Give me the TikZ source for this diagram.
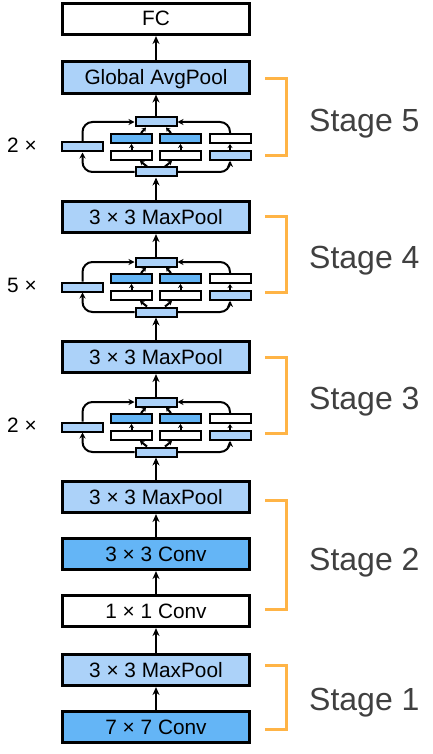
\documentclass[tikz,border=0pt]{standalone}
\usepackage{fontspec}
\setmainfont{Liberation Sans}
\usetikzlibrary{arrows.meta, positioning}
\definecolor{poolblue}{RGB}{172,210,249}
\definecolor{convblue}{RGB}{100,181,246}
\definecolor{stageorange}{RGB}{255,180,70}
\definecolor{stagegray}{RGB}{64,64,64}

\begin{document}
\begin{tikzpicture}[x=1pt, y=-1pt,
    layer/.style={rectangle, draw, line width=2.6pt, minimum width=187pt, minimum height=31.5pt, inner sep=0pt,
      text height=15pt, text depth=1pt, font=\fontsize{20.8}{24}\selectfont},
    unit/.style={rectangle, draw, line width=2pt, minimum width=41pt, minimum height=9pt, inner sep=0pt},
    flow/.style={-{Stealth[length=8pt, width=7pt]}, line width=2.3pt},
    link/.style={-{Stealth[length=6pt, width=6pt]}, line width=2pt, rounded corners=10pt},
    tiny/.style={-{Stealth[length=4pt, width=5pt]}, line width=2pt},
    bracket/.style={draw=stageorange, line width=3pt},
    stage/.style={anchor=base west, inner sep=0pt, text=stagegray, font=\fontsize{32}{36}\selectfont},
    times/.style={anchor=base west, inner sep=0pt, font=\fontsize{20.8}{24}\selectfont}
]
\useasboundingbox (0,0) rectangle (433,754);

% main column
\node[layer, fill=white] (fc) at (156,19) {FC};
\node[layer, fill=poolblue] (gap) at (156,77.5) {Global AvgPool};
\node[layer, fill=poolblue] (pool4) at (156,217) {3 × 3 MaxPool};
\node[layer, fill=poolblue] (pool3) at (156,357) {3 × 3 MaxPool};
\node[layer, fill=poolblue] (pool2) at (156,497) {3 × 3 MaxPool};
\node[layer, fill=convblue] (conv3) at (156,554) {3 × 3 Conv};
\node[layer, fill=white] (conv1) at (156,611) {1 × 1 Conv};
\node[layer, fill=poolblue] (pool1) at (156,670) {3 × 3 MaxPool};
\node[layer, fill=convblue] (conv7) at (156,727) {7 × 7 Conv};

% inception blocks
\foreach \c/\n/\k in {147/5/2, 287/4/5, 427/3/2} {
  \node[unit, fill=poolblue] (cat\n) at (156,\c-25) {};
  \node[unit, fill=poolblue] (inp\n) at (156,\c+25) {};
  \node[unit, fill=poolblue] (pa\n) at (82.5,\c) {};
  \node[unit, fill=white] (pb\n) at (131.5,\c+8.5) {};
  \node[unit, fill=convblue] (qb\n) at (131.5,\c-8.5) {};
  \node[unit, fill=white] (pc\n) at (180.5,\c+8.5) {};
  \node[unit, fill=convblue] (qc\n) at (180.5,\c-8.5) {};
  \node[unit, fill=poolblue] (pd\n) at (230,\c+8.5) {};
  \node[unit, fill=white] (qd\n) at (230,\c-8.5) {};
  \node[times] (rep\n) at (7,\c+5.7) {\k\ ×};

  \draw[link] (inp\n.west) -| (pa\n.south);
  \draw[link] (pa\n.north) |- (cat\n.west);
  \draw[link] (inp\n.east) -| (pd\n.south);
  \draw[link] (qd\n.north) |- (cat\n.east);
  \draw[tiny] (pd\n) -- (qd\n);
  \draw[tiny] (pb\n) -- (qb\n);
  \draw[tiny] (pc\n) -- (qc\n);
  \draw[tiny] ([xshift=-9pt]inp\n.north) -- ([xshift=8.5pt]pb\n.south);
  \draw[tiny] ([xshift=9pt]inp\n.north) -- ([xshift=-8.5pt]pc\n.south);
  \draw[tiny] ([xshift=9.5pt]qb\n.north) -- ([xshift=-10pt]cat\n.south);
  \draw[tiny] ([xshift=-9.5pt]qc\n.north) -- ([xshift=10pt]cat\n.south);
}

\draw[flow] (conv7) -- (pool1);
\draw[flow] (pool1) -- (conv1);
\draw[flow] (conv1) -- (conv3);
\draw[flow] (conv3) -- (pool2);
\draw[flow] (pool2) -- (inp3);
\draw[flow] (cat3) -- (pool3);
\draw[flow] (pool3) -- (inp4);
\draw[flow] (cat4) -- (pool4);
\draw[flow] (pool4) -- (inp5);
\draw[flow] (cat5) -- (gap);
\draw[flow] (gap) -- (fc);

% stages
\draw[bracket] (265,79) -| (286,156) -- (265,156);
\draw[bracket] (265,216) -| (286,292) -- (265,292);
\draw[bracket] (265,357) -| (286,433) -- (265,433);
\draw[bracket] (265,500) -| (286,609) -- (265,609);
\draw[bracket] (265,665) -| (286,729) -- (265,729);
\node[stage] (s5) at (309,131.5) {Stage 5};
\node[stage] (s4) at (309,268) {Stage 4};
\node[stage] (s3) at (309,409) {Stage 3};
\node[stage] (s2) at (309,570) {Stage 2};
\node[stage] (s1) at (309,710.5) {Stage 1};

\end{tikzpicture}
\end{document}
